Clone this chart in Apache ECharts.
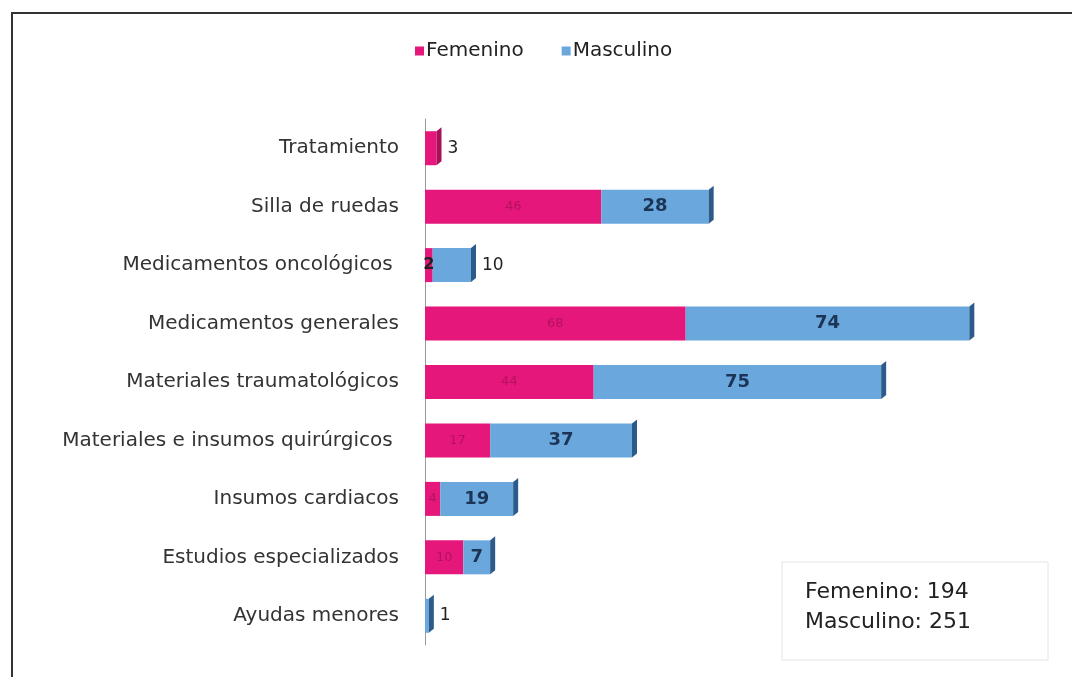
<!DOCTYPE html>
<html>
<head>
<meta charset="utf-8">
<script src="https://cdn.jsdelivr.net/npm/echarts@6/dist/echarts.min.js"></script>
<style>
  html, body { margin: 0; padding: 0; background: #fff; }
  #chart { width: 1072px; height: 677px; }
</style>
</head>
<body>
<div id="chart"></div>
<script>
// datos
const categorias = ['Tratamiento', 'Silla de ruedas', 'Medicamentos oncológicos ', 'Medicamentos generales',
  'Materiales traumatológicos', 'Materiales e insumos quirúrgicos ', 'Insumos cardiacos',
  'Estudios especializados', 'Ayudas menores'];
const femenino = [3, 46, 2, 68, 44, 17, 4, 10, 0];
const masculino = [0, 28, 10, 74, 75, 37, 19, 7, 1];

const rosa = '#e6177b';
const azul = '#6aa7dc';
const azulOscuro = '#2c5a8a';

const totalFem = femenino.reduce((a, b) => a + b, 0);
const totalMas = masculino.reduce((a, b) => a + b, 0);

const chart = echarts.init(document.getElementById('chart'));

const fontBase = '"DejaVu Sans", sans-serif';
const etiquetaFuera = { position: 'right', offset: [6, 0], color: '#222', fontWeight: 'normal', fontSize: 17 };

let datosFem = femenino.map((v, i) => {
  if (v === 0) return { value: v, label: { show: false } };
  if (masculino[i] === 0) return { value: v, label: etiquetaFuera };
  if (v <= 3) return { value: v, label: { color: '#222', fontWeight: 'bold', fontSize: 16 } };
  return v;
});
let datosMas = masculino.map((v, i) => {
  if (v === 0) return { value: v, label: { show: false } };
  if (v < 7 || i === 2) return { value: v, label: etiquetaFuera };
  return v;
});

const totales = categorias.map((c, i) => [femenino[i] + masculino[i], i, masculino[i] > 0 ? 1 : 0]);

let options = {
  animation: false,
  textStyle: { fontFamily: fontBase },
  legend: {
    top: 36,
    left: 410,
    icon: 'rect',
    itemWidth: 9,
    itemHeight: 9,
    itemGap: 38,
    textStyle: { fontSize: 20, color: '#222', padding: [0, 0, 0, -3], fontFamily: fontBase },
    data: ['Femenino', 'Masculino']
  },
  grid: { left: 425, right: 72, top: 119, bottom: 32 },
  xAxis: {
    type: 'value',
    min: 0,
    max: 150,
    show: false
  },
  yAxis: {
    type: 'category',
    inverse: true,
    data: categorias,
    axisTick: { show: false },
    axisLine: { lineStyle: { color: '#9a9a9a', width: 1 } },
    axisLabel: { fontSize: 20, color: '#333', margin: 26, fontFamily: fontBase }
  },
  series: [
    {
      name: 'Femenino',
      type: 'bar',
      stack: 'total',
      barWidth: 34,
      itemStyle: { color: rosa },
      label: { show: true, position: 'inside', color: '#b3125c', fontSize: 13 },
      data: datosFem
    },
    {
      name: 'Masculino',
      type: 'bar',
      stack: 'total',
      barWidth: 34,
      itemStyle: { color: azul },
      label: { show: true, position: 'inside', color: '#1c3557', fontSize: 18, fontWeight: 'bold' },
      data: datosMas
    },
    {
      // cara lateral 3D al final de cada barra
      type: 'custom',
      silent: true,
      z: 3,
      renderItem: function (params, api) {
        const fin = api.coord([api.value(0), api.value(1)]);
        const h = 34;
        const d = 5;
        const col = api.value(2) ? azulOscuro : '#a8105a';
        return {
          type: 'polygon',
          shape: {
            points: [
              [fin[0], fin[1] - h / 2],
              [fin[0] + d, fin[1] - h / 2 - 4],
              [fin[0] + d, fin[1] + h / 2 - 4],
              [fin[0], fin[1] + h / 2]
            ]
          },
          style: { fill: col }
        };
      },
      encode: { x: 0, y: 1 },
      data: totales
    }
  ],
  graphic: [
    {
      type: 'rect',
      shape: { x: 12, y: 13, width: 1100, height: 700 },
      style: { fill: 'none', stroke: '#333', lineWidth: 2 }
    },
    {
      type: 'rect',
      shape: { x: 782, y: 562, width: 266, height: 98 },
      style: { fill: '#fff', stroke: '#e4e4e4', lineWidth: 1 }
    },
    {
      type: 'text',
      left: 805,
      top: 577,
      style: {
        text: 'Femenino: ' + totalFem + '\nMasculino: ' + totalMas,
        fontSize: 22,
        lineHeight: 30,
        fill: '#222',
        fontFamily: fontBase
      }
    }
  ]
};

chart.setOption(options, true);
</script>
</body>
</html>
